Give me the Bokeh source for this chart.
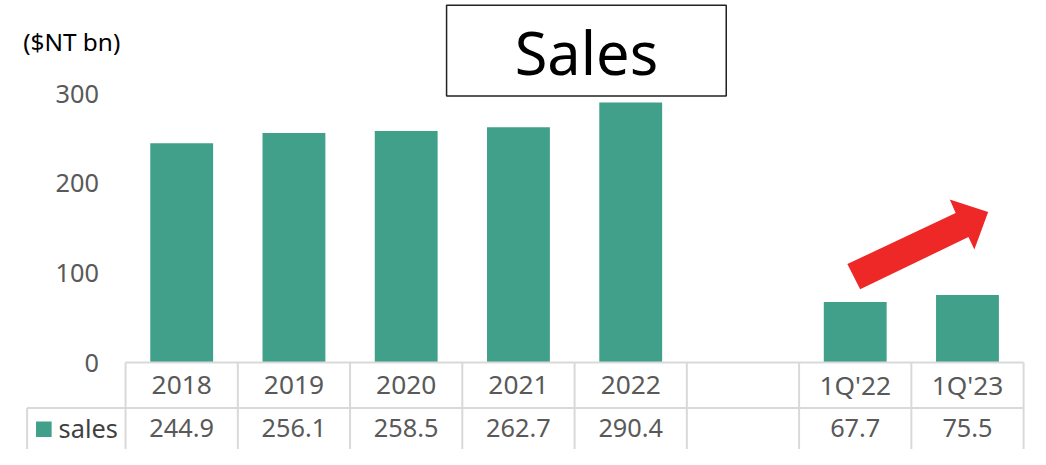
from bokeh.plotting import figure
from bokeh.models import Range1d
from bokeh.core.properties import value
from bokeh.embed import file_html
from bokeh.resources import INLINE

# ---- data ----
categories = ["2018", "2019", "2020", "2021", "2022", "", "1Q'22", "1Q'23"]
sales = [244.9, 256.1, 258.5, 262.7, 290.4, None, 67.7, 75.5]
y_ticks = [0, 100, 200, 300]
series_name = "sales"
unit_label = "($NT bn)"
title_text = "Sales"

FONT = value("Noto Sans")
BAR_COLOR = "#41a08a"
GRID_COLOR = "#d9d9d9"
TEXT_GRAY = "#595959"

# layout helpers: reference-pixel -> data units
REF_W, REF_H = 1046, 465
FIG_W, FIG_H = 1030, 449
K = 0.975  # font scale
CAT_W = 114.0
CAT0_X = 184.0
ZERO_Y = 375.0
PX_PER_UNIT = 0.928


def xd(px):
    return (px - CAT0_X) / CAT_W


def yd(py):
    return (ZERO_Y - py) / PX_PER_UNIT


def fs(px):
    return f"{px * K:.1f}px"


p = figure(width=FIG_W, height=FIG_H,
           x_range=Range1d(xd(0), xd(REF_W)), y_range=Range1d(yd(REF_H), yd(0)),
           output_backend="svg", toolbar_location=None,
           x_axis_location=None, y_axis_location=None,
           min_border=0, outline_line_color=None)
p.grid.visible = False
p.background_fill_color = "white"
p.border_fill_color = "white"

idx = list(range(len(categories)))
bar_x = [i for i, v in zip(idx, sales) if v is not None]
bar_top = [v for v in sales if v is not None]
p.vbar(x=bar_x, top=bar_top, bottom=0, width=0.56, fill_color=BAR_COLOR,
       line_color=None)

# ---- data table ----
n = len(categories)
row_div = yd(422)
bottom = yd(470)
left_edge = xd(27)
x0s = [-0.5, left_edge] + [i - 0.5 for i in range(n + 1)] + [left_edge]
x1s = [n - 0.5, n - 0.5] + [i - 0.5 for i in range(n + 1)] + [left_edge]
y0s = [0, row_div] + [0] * (n + 1) + [row_div]
y1s = [0, row_div] + [bottom] * (n + 1) + [bottom]
p.segment(x0=x0s, y0=y0s, x1=x1s, y1=y1s, line_color=GRID_COLOR, line_width=2)

p.text(x=idx, y=[yd(398)] * n, text=categories, text_font=FONT,
       text_font_size=fs(27), text_color=TEXT_GRAY, text_align="center",
       text_baseline="middle")
val_txt = ["" if v is None else f"{v:.1f}" for v in sales]
p.text(x=idx, y=[yd(443)] * n, text=val_txt, text_font=FONT,
       text_font_size=fs(26), text_color=TEXT_GRAY, text_align="center",
       text_baseline="middle")

# legend key
p.scatter(x=[xd(44)], y=[yd(444)], marker="square", size=16 * K,
          fill_color=BAR_COLOR, line_color=None)
p.text(x=[xd(59)], y=[yd(443)], text=[series_name], text_font=FONT,
       text_font_size=fs(26), text_color="#404040", text_align="left",
       text_baseline="middle")

# y tick labels
p.text(x=[xd(100)] * len(y_ticks), y=y_ticks, text=[str(t) for t in y_ticks],
       text_font=FONT, text_font_size=fs(26), text_color=TEXT_GRAY,
       text_align="right", text_baseline="middle")

# unit label
p.text(x=[xd(23)], y=[yd(42)], text=[unit_label], text_font=FONT,
       text_font_size=fs(25), text_color="black", text_align="left",
       text_baseline="middle")

# title box
p.quad(left=[xd(453)], right=[xd(737)], top=[yd(5)], bottom=[yd(99)],
       fill_color="white", line_color="#222222", line_width=1.5)
p.text(x=[xd(595)], y=[yd(53)], text=[title_text], text_font=FONT,
       text_font_size=fs(61), text_color="black", text_align="center",
       text_baseline="middle")

# red arrow (decoration)
arrow_px = [(860, 273), (970, 220), (964, 206), (1003, 219), (989, 258),
            (983, 245), (873, 299)]
p.patch(x=[xd(a) for a, b in arrow_px], y=[yd(b) for a, b in arrow_px],
        fill_color="#ee2727", line_color=None)

open("out.html", "w").write(file_html(p, INLINE))
